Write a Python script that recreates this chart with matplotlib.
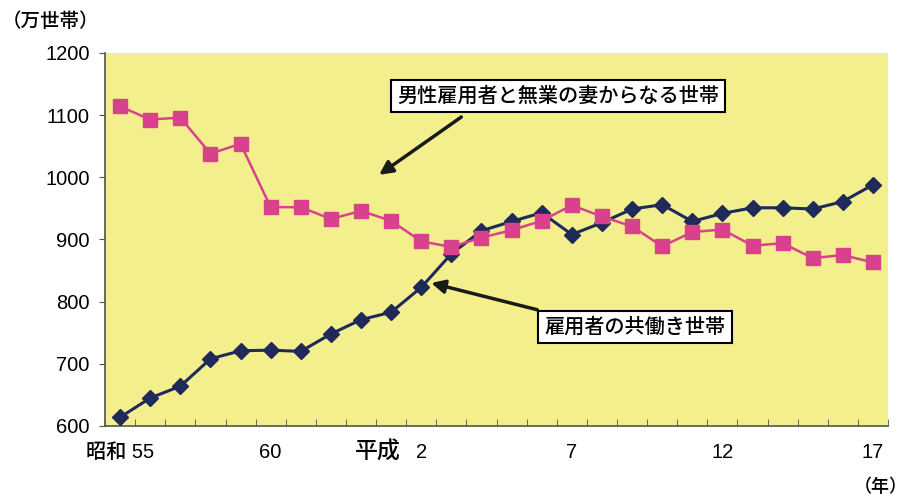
import matplotlib.pyplot as plt
import numpy as np

plt.rcParams['font.family'] = ['Liberation Sans', 'Noto Sans CJK JP']

# 1980 (昭和55) - 2005 (平成17)
years = list(range(1980, 2006))
housewife = [1114, 1093, 1096, 1038, 1054, 952, 952, 933, 946, 930,
             897, 888, 903, 915, 930, 955, 937, 921, 889, 912,
             916, 890, 894, 870, 875, 863]
dual = [614, 645, 664, 708, 721, 722, 720, 748, 771, 783,
        823, 877, 914, 929, 943, 908, 927, 949, 956, 929,
        942, 951, 951, 949, 961, 988]
tick_years = [1980, 1985, 1990, 1995, 2000, 2005]
tick_labels = ['昭和 55', '60', '2', '7', '12', '17']
label_housewife = '男性雇用者と無業の妻からなる世帯'
label_dual = '雇用者の共働き世帯'

fig = plt.figure(figsize=(9.11, 4.98), dpi=100)
ax = fig.add_axes([0.1153, 0.1446, 0.8595, 0.749])
ax.set_facecolor('#f3ef8c')

x = np.arange(len(years))
ax.plot(x, dual, color='#1f2a5a', lw=2.2, marker='D', ms=8, zorder=3)
ax.plot(x, housewife, color='#d8428c', lw=1.8, marker='s', ms=9.5, zorder=4)

ax.set_xlim(-0.5, len(years) - 0.5)
ax.set_ylim(600, 1200)
ax.set_yticks(range(600, 1201, 100))
ax.tick_params(axis='y', direction='out', length=4, color='#555540', labelsize=14.5, pad=7)

# x ticks between categories, labels at selected years
ax.set_xticks(np.arange(len(years) + 1) - 0.5, minor=True)
ax.set_xticks([years.index(y) for y in tick_years])
ax.set_xticklabels(tick_labels)
ax.tick_params(axis='x', which='major', length=0, labelsize=14.5, pad=12)
ax.tick_params(axis='x', which='minor', direction='in', length=5, color='#555540')
for lbl in ax.get_xticklabels() + ax.get_yticklabels():
    lbl.set_fontweight('medium')

for s in ['top', 'right']:
    ax.spines[s].set_visible(False)
for s in ['left', 'bottom']:
    ax.spines[s].set_color('#555540')
    ax.spines[s].set_linewidth(1.2)

fig.text(2 / 911, 1 - 22 / 498, '（万世帯）', fontsize=14, va='center', ha='left',
         fontweight='medium')
fig.text(854 / 911, 1 - 487 / 498, '（年）', fontsize=13, va='center', ha='left',
         fontweight='medium')
fig.text(378 / 911, 1 - 452 / 498, '平成', fontsize=16.5, va='center', ha='center',
         fontweight='medium')

box = dict(boxstyle='square,pad=0.3', fc='white', ec='black', lw=1.5)
arrow = dict(arrowstyle='-|>,head_length=0.8,head_width=0.4', color='#1a1a1a', lw=2.5,
             shrinkA=0, shrinkB=0)
ax.annotate(label_housewife, xy=(8.6, 1004), xytext=(14.55, 1131),
            fontsize=14.5, ha='center', va='center', bbox=box, zorder=6,
            fontweight='medium')
ax.annotate('', xy=(8.6, 1004), xytext=(11.33, 1097), arrowprops=arrow, zorder=5)
ax.annotate(label_dual, xy=(10.33, 830), xytext=(17.1, 759),
            fontsize=14.5, ha='center', va='center', bbox=box, zorder=6,
            fontweight='medium')
ax.annotate('', xy=(10.33, 830), xytext=(13.85, 787), arrowprops=arrow, zorder=5)

fig.savefig('out.png', dpi=100)
